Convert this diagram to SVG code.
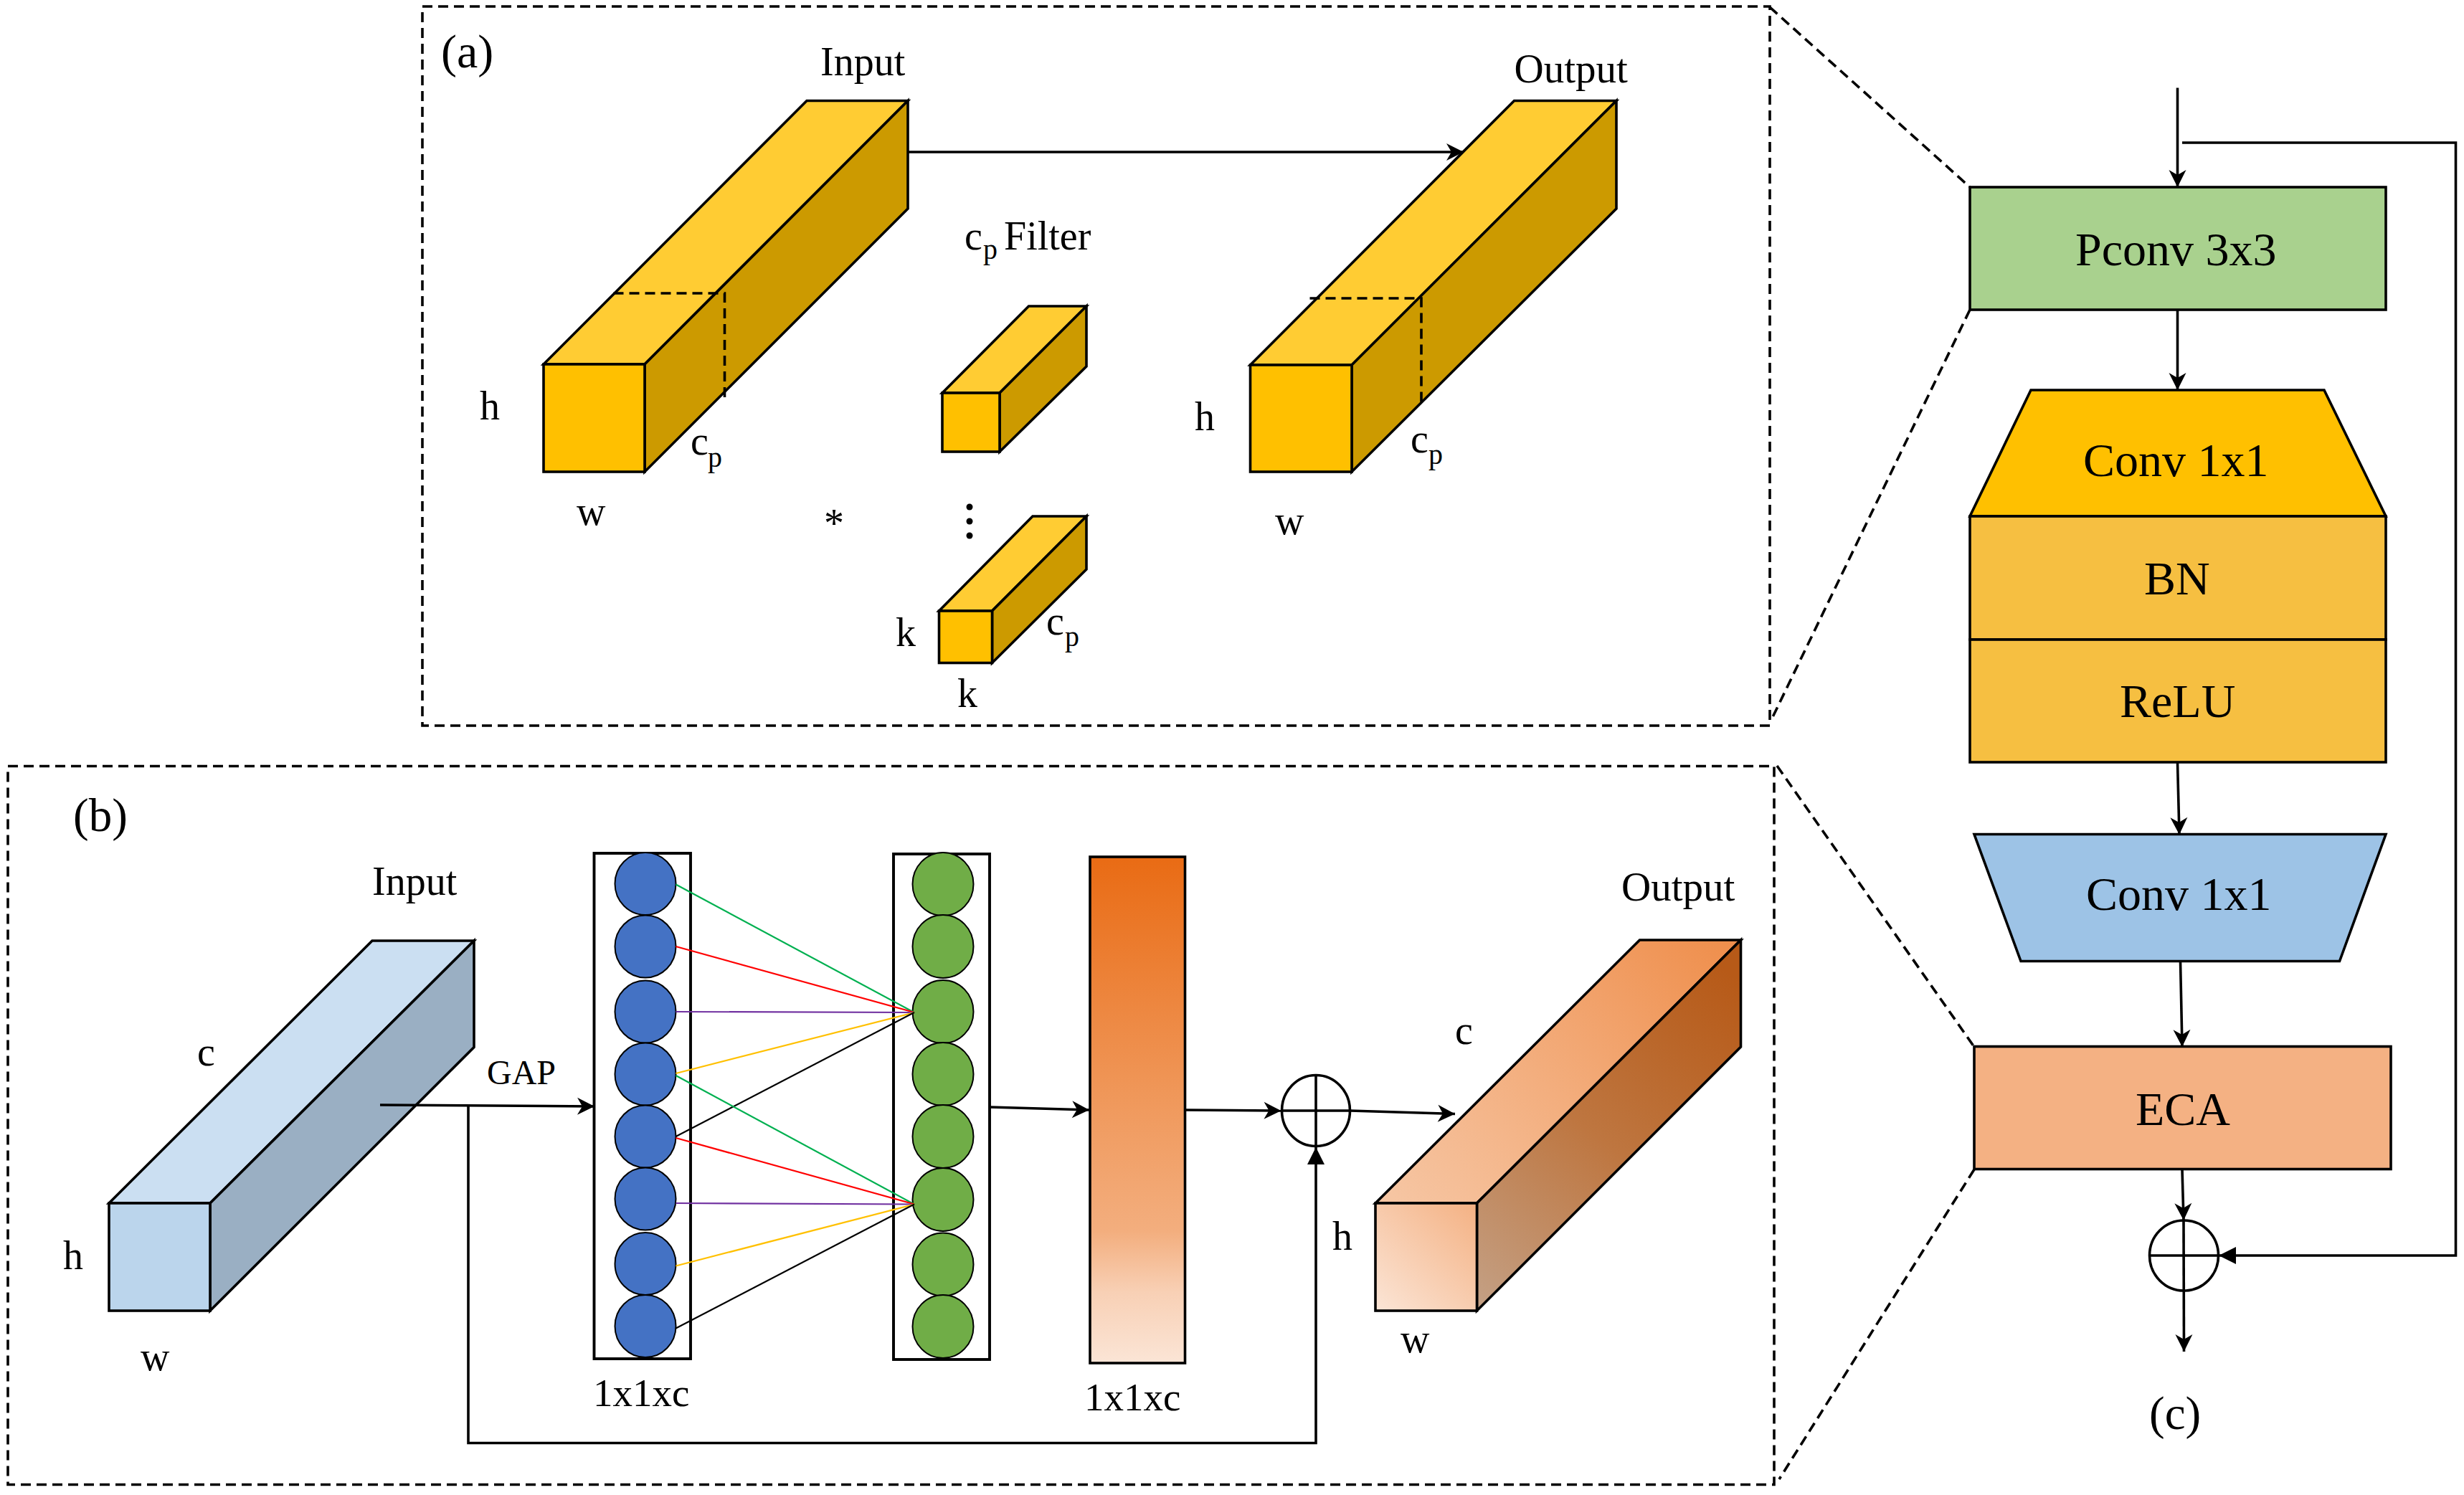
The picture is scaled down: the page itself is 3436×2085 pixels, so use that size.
<svg xmlns="http://www.w3.org/2000/svg" width="3436" height="2085" viewBox="0 0 3436 2085">
<style>
text{font-family:"Liberation Serif","Times New Roman",serif;fill:#000;font-size:56px}
.s{font-size:40px}
.l{font-size:66px}
.o{font-size:57px}
.x{font-size:55px}
.k{stroke:#000;stroke-width:3.6;stroke-linejoin:miter}
.d{fill:none;stroke:#000;stroke-width:3.6;stroke-dasharray:14 8}
.c{fill:none;stroke:#000;stroke-width:3.6}
.w{fill:none;stroke:#000;stroke-width:3.9}
.yf{fill:#FFC000}.yt{fill:#FFCC33}.ys{fill:#CC9A00}
.bc{fill:#4472C4;stroke:#000;stroke-width:2}
.gc{fill:#70AD47;stroke:#000;stroke-width:2}
.nl{fill:none;stroke-width:2.2}
</style>
<defs>
<marker id="a" markerUnits="userSpaceOnUse" markerWidth="30" markerHeight="30" refX="25" refY="15" orient="auto"><path d="M1,3 L25,15 L1,27 L8,15 Z" fill="#000"/></marker>
<marker id="t" markerUnits="userSpaceOnUse" markerWidth="30" markerHeight="30" refX="25" refY="15" orient="auto"><path d="M1,3 L25,15 L1,27 Z" fill="#000"/></marker>
<linearGradient id="bar" x1="0" y1="0" x2="0" y2="1">
<stop offset="0" stop-color="#E96B14"/><stop offset=".5" stop-color="#F09A5E"/><stop offset=".74" stop-color="#F3AE7E"/><stop offset=".86" stop-color="#F8D0B5"/><stop offset="1" stop-color="#FBE5D6"/>
</linearGradient>
<linearGradient id="of" gradientUnits="userSpaceOnUse" x1="1918" y1="1828" x2="2059" y2="1678"><stop offset="0" stop-color="#FBE5D6"/><stop offset="1" stop-color="#F4B183"/></linearGradient>
<linearGradient id="ot" gradientUnits="userSpaceOnUse" x1="1970" y1="1700" x2="2400" y2="1310"><stop offset="0" stop-color="#F6C5A2"/><stop offset=".45" stop-color="#F3AE7E"/><stop offset="1" stop-color="#EF8F4D"/></linearGradient>
<linearGradient id="os" gradientUnits="userSpaceOnUse" x1="2060" y1="1828" x2="2428" y2="1370"><stop offset="0" stop-color="#C4A186"/><stop offset=".5" stop-color="#BE7640"/><stop offset="1" stop-color="#B75A18"/></linearGradient>
</defs>
<rect width="3436" height="2085" fill="#fff"/>

<g id="panel-frames">
<rect class="d" x="589" y="9" width="1879" height="1003"/>
<rect class="d" x="11" y="1068.5" width="2463" height="1002"/>
<path class="d" d="M2468,10 L2747,261 M2747,432 L2471,1002 M2478,1068 L2753,1460 M2753,1631 L2481,2063"/>
<text x="615" y="94" style="font-size:66px">(a)</text>
<text x="102" y="1159" style="font-size:65px">(b)</text>
<text x="2997" y="1993" style="font-size:65px">(c)</text>
</g>

<g id="a-input">
<path class="k yt" d="M758,508 L1125,140.5 L1266,140.5 L899,508 Z"/>
<path class="k ys" d="M899,508 L1266,140.5 L1266,291 L899,658 Z"/>
<rect class="k yf" x="758" y="508" width="141" height="150"/>
<path class="d" d="M855.5,409 L1010.5,409 L1010.5,556"/>
<text x="1144" y="105">Input</text>
<text x="669" y="585">h</text>
<text x="963" y="634">c<tspan class="s" x="987" y="651">p</tspan></text>
<text x="804" y="732">w</text>
</g>
<g id="a-filter-1">
<path class="k yt" d="M1314,548 L1434.5,427 L1515,427 L1394,548 Z"/>
<path class="k ys" d="M1394,548 L1515,427 L1515,511 L1394,630 Z"/>
<rect class="k yf" x="1314" y="548" width="80" height="82"/>
<text x="1345" y="348">c<tspan class="s" x="1371" y="361">p</tspan><tspan x="1400" y="348">Filter</tspan></text>
</g>
<g id="a-filter-k">
<path class="k yt" d="M1309.5,852 L1440,720 L1515,720 L1383.5,852 Z"/>
<path class="k ys" d="M1383.5,852 L1515,720 L1515,794 L1383.5,924.5 Z"/>
<rect class="k yf" x="1309.5" y="852" width="74" height="72.5"/>
<circle cx="1352" cy="707" r="4.5"/><circle cx="1352" cy="727" r="4.5"/><circle cx="1352" cy="747" r="4.5"/>
<text x="1149" y="749">*</text>
<text x="1249" y="901">k</text>
<text x="1335" y="986">k</text>
<text x="1459" y="885">c<tspan class="s" x="1485" y="901">p</tspan></text>
</g>
<g id="a-output">
<path class="k yt" d="M1743.5,509 L2111.5,140.5 L2254,140.5 L1885,509 Z"/>
<path class="k ys" d="M1885,509 L2254,140.5 L2254,291 L1885,658 Z"/>
<rect class="k yf" x="1743.5" y="509" width="141.5" height="149"/>
<path class="d" d="M1826.5,416 L1982,416 L1982,563"/>
<text class="o" x="2111.5" y="115">Output</text>
<text x="1666" y="600">h</text>
<text x="1967" y="631">c<tspan class="s" x="1992" y="647">p</tspan></text>
<text x="1778" y="745">w</text>
</g>

<g id="b-input">
<path class="k" fill="#CBDFF2" d="M152,1678 L519,1312 L661,1312 L293,1678 Z"/>
<path class="k" fill="#9AAFC3" d="M293,1678 L661,1312 L661,1460.5 L293,1828 Z"/>
<rect class="k" fill="#BBD5EC" x="152" y="1678" width="141" height="150"/>
<text x="519" y="1248">Input</text>
<text x="275" y="1486">c</text>
<text x="88" y="1769.5">h</text>
<text x="196" y="1911">w</text>
</g>
<g id="b-blue-column">
<rect class="w" x="828.5" y="1190" width="134.5" height="705"/>
<ellipse class="bc" cx="900" cy="1232.5" rx="42.5" ry="43.5"/>
<ellipse class="bc" cx="900" cy="1320" rx="42.5" ry="43.5"/>
<ellipse class="bc" cx="900" cy="1411" rx="42.5" ry="43.5"/>
<ellipse class="bc" cx="900" cy="1498" rx="42.5" ry="43.5"/>
<ellipse class="bc" cx="900" cy="1585" rx="42.5" ry="43.5"/>
<ellipse class="bc" cx="900" cy="1672" rx="42.5" ry="43.5"/>
<ellipse class="bc" cx="900" cy="1762.5" rx="42.5" ry="43.5"/>
<ellipse class="bc" cx="900" cy="1849.5" rx="42.5" ry="43.5"/>
<text class="x" x="827" y="1961">1x1xc</text>
</g>
<g id="b-green-column">
<rect class="w" x="1246" y="1191" width="134" height="705"/>
<ellipse class="gc" cx="1315" cy="1233" rx="42.5" ry="44"/>
<ellipse class="gc" cx="1315" cy="1320" rx="42.5" ry="44"/>
<ellipse class="gc" cx="1315" cy="1411" rx="42.5" ry="44"/>
<ellipse class="gc" cx="1315" cy="1498" rx="42.5" ry="44"/>
<ellipse class="gc" cx="1315" cy="1585" rx="42.5" ry="44"/>
<ellipse class="gc" cx="1315" cy="1673" rx="42.5" ry="44"/>
<ellipse class="gc" cx="1315" cy="1763.5" rx="42.5" ry="44"/>
<ellipse class="gc" cx="1315" cy="1850" rx="42.5" ry="44"/>
</g>
<g id="b-bar">
<rect class="k" fill="url(#bar)" x="1520" y="1195" width="132.5" height="706"/>
<text class="x" x="1512" y="1967">1x1xc</text>
</g>
<g id="b-output">
<path class="k" fill="url(#ot)" d="M1918,1678 L2286.5,1311 L2427.5,1311 L2059.5,1678 Z"/>
<path class="k" fill="url(#os)" d="M2059.5,1678 L2427.5,1311 L2427.5,1460 L2059.5,1828 Z"/>
<rect class="k" fill="url(#of)" x="1918" y="1678" width="141.5" height="150"/>
<text class="o" x="2261" y="1255.5">Output</text>
<text x="2029" y="1456">c</text>
<text x="1858" y="1743">h</text>
<text x="1953" y="1886">w</text>
</g>
<g id="b-sum">
<ellipse class="c" cx="1835" cy="1549" rx="47.5" ry="49.5"/>
<path class="c" d="M1835,1500 V1598 M1787.5,1549 H1882.5"/>
</g>

<g id="c-pconv">
<rect class="k" fill="#A9D18E" x="2747" y="261" width="580" height="171"/>
<text class="l" x="2894" y="370">Pconv 3x3</text>
</g>
<g id="c-conv-up">
<path class="k" fill="#FFC000" d="M2832,544 L3241,544 L3327,720 L2747,720 Z"/>
<text class="l" x="2905" y="664">Conv 1x1</text>
</g>
<g id="c-bn">
<rect class="k" fill="#F6BF41" x="2747" y="720" width="580" height="172"/>
<text class="l" x="2990" y="829">BN</text>
</g>
<g id="c-relu">
<rect class="k" fill="#F6BF41" x="2747" y="892" width="580" height="171"/>
<text class="l" x="2956" y="1000">ReLU</text>
</g>
<g id="c-conv-down">
<path class="k" fill="#9DC3E6" d="M2753,1163.5 L3327,1163.5 L3262.5,1340.5 L2818,1340.5 Z"/>
<text class="l" x="2909" y="1269">Conv 1x1</text>
</g>
<g id="c-eca">
<rect class="k" fill="#F4B183" x="2753" y="1459.5" width="581" height="171"/>
<text class="l" x="2978" y="1569">ECA</text>
</g>
<g id="c-sum">
<ellipse class="c" cx="3045.5" cy="1751" rx="48" ry="49"/>
<path class="c" d="M2997.5,1751 H3093.5"/>
</g>

<g id="connectors">
<path class="c" marker-end="url(#a)" d="M1266,212 H2041"/>
<path class="c" marker-end="url(#a)" d="M530,1541 L829,1543"/>
<path class="c" marker-end="url(#t)" d="M653,1543 V2012.5 H1835 V1600"/>
<path class="c" marker-end="url(#a)" d="M1380,1544 L1519,1548"/>
<path class="c" marker-end="url(#a)" d="M1652.5,1548 L1786.5,1549"/>
<path class="c" marker-end="url(#a)" d="M1882.5,1549 L2029,1553.5"/>
<path class="nl" stroke="#00B050" d="M942.5,1233.5 L1275,1412"/>
<path class="nl" stroke="#FF0000" d="M942.5,1320 L1275,1412"/>
<path class="nl" stroke="#7030A0" d="M942.5,1411 L1275,1412"/>
<path class="nl" stroke="#FFC000" d="M942.5,1497 L1275,1412"/>
<path class="nl" stroke="#000" d="M942.5,1585 L1275,1412"/>
<path class="nl" stroke="#00B050" d="M942.5,1500 L1275,1679.5"/>
<path class="nl" stroke="#FF0000" d="M942.5,1587 L1275,1679.5"/>
<path class="nl" stroke="#7030A0" d="M942.5,1678 L1275,1679.5"/>
<path class="nl" stroke="#FFC000" d="M942.5,1765.5 L1275,1679.5"/>
<path class="nl" stroke="#000" d="M942.5,1852.5 L1275,1679.5"/>
<path class="c" marker-end="url(#a)" d="M3036.5,122.5 V261"/>
<path class="c" marker-end="url(#a)" d="M3036.5,432 V544"/>
<path class="c" marker-end="url(#a)" d="M3036.5,1064 L3039,1164"/>
<path class="c" marker-end="url(#a)" d="M3040.5,1341 L3043,1460"/>
<path class="c" marker-end="url(#a)" d="M3043,1631 L3045,1702"/>
<path class="c" marker-end="url(#a)" d="M3045,1702 L3045.5,1885"/>
<path class="c" marker-end="url(#t)" d="M3043,199 H3424.5 V1751 H3094"/>
</g>
<text x="679" y="1512" style="font-size:48px">GAP</text>
</svg>
